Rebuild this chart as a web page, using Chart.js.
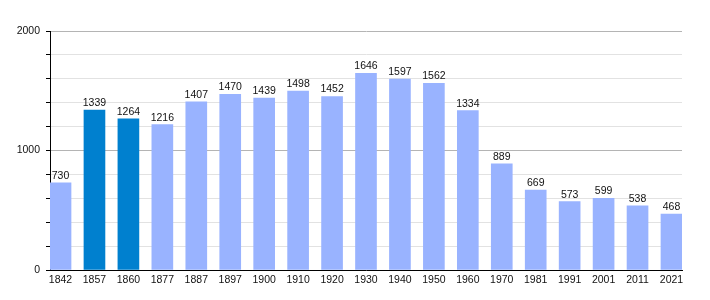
<!DOCTYPE html>
<html>
<head>
<meta charset="utf-8">
<script src="https://cdn.jsdelivr.net/npm/chart.js@4.4.1/dist/chart.umd.min.js"></script>
<style>
html,body{margin:0;padding:0;background:#fff;}
#wrap{width:710px;height:300px;position:relative;}
</style>
</head>
<body>
<div id="wrap"><canvas id="c" width="710" height="300"></canvas></div>
<script>
const years = ['1842','1857','1860','1877','1887','1897','1900','1910','1920','1930','1940','1950','1960','1970','1981','1991','2001','2011','2021'];
const population = [730,1339,1264,1216,1407,1470,1439,1498,1452,1646,1597,1562,1334,889,669,573,599,538,468];
const highlighted = ['1857','1860'];
const yTickLabels = [0,1000,2000];

const LIGHT = '#99b3ff';
const DARK = '#0080cf';
const FONT = '"Liberation Sans", Arial, sans-serif';

const valueLabels = {
  id: 'valueLabels',
  afterDatasetsDraw(chart) {
    const ctx = chart.ctx;
    const meta = chart.getDatasetMeta(0);
    ctx.save();
    ctx.font = '10.5px ' + FONT;
    ctx.fillStyle = '#111';
    ctx.textAlign = 'center';
    ctx.textBaseline = 'alphabetic';
    meta.data.forEach((el, i) => {
      ctx.fillText(String(population[i]), el.x, el.y - 4);
    });
    ctx.restore();
  }
};

new Chart(document.getElementById('c'), {
  type: 'bar',
  data: {
    datasets: [{
      data: population.map((v, i) => ({x: i, y: v})),
      backgroundColor: years.map(y => highlighted.includes(y) ? DARK : LIGHT),
      borderWidth: 0,
      barThickness: 21
    }]
  },
  options: {
    responsive: false,
    animation: false,
    events: [],
    layout: {padding: {top: 31, right: 28, left: 0, bottom: 0}},
    plugins: {legend: {display: false}, tooltip: {enabled: false}},
    scales: {
      x: {
        type: 'linear',
        offset: false,
        min: -0.31,
        max: 18.31,
        afterBuildTicks: s => { s.ticks = years.map((_, i) => ({value: i})); },
        afterFit: s => { s.height = 30; },
        grid: {display: false, drawTicks: false, tickLength: 0},
        border: {display: true, color: '#000', width: 1},
        ticks: {
          autoSkip: false,
          maxRotation: 0,
          padding: 4,
          color: '#111',
          font: {family: FONT, size: 10.5},
          callback: v => years[v] ?? ''
        }
      },
      y: {
        min: 0,
        max: 2000,
        afterFit: s => { s.width = 50; },
        afterBuildTicks: s => {
          const t = [];
          for (let v = 0; v <= 2000; v += 200) t.push({value: v});
          s.ticks = t;
        },
        border: {display: true, color: '#000', width: 1},
        grid: {
          color: c => (c.tick && c.tick.value % 1000 === 0) ? '#b4b4b4' : '#e2e2e2',
          tickColor: '#000',
          tickLength: 4,
          lineWidth: 1
        },
        ticks: {
          autoSkip: false,
          padding: 6,
          color: '#111',
          font: {family: FONT, size: 10.5},
          callback: v => yTickLabels.includes(v) ? String(v) : ''
        }
      }
    }
  },
  plugins: [valueLabels]
});
</script>
</body>
</html>
